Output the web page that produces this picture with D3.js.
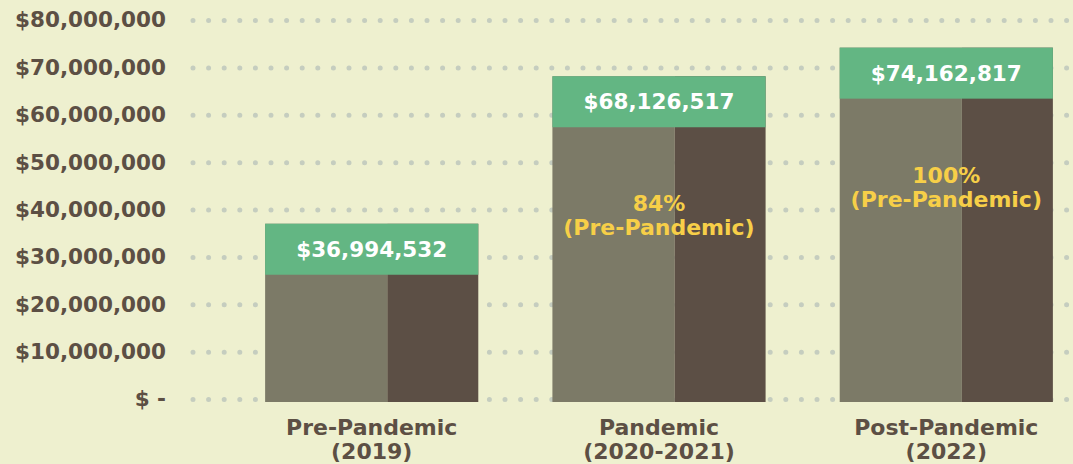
<!DOCTYPE html>
<html>
<head>
<meta charset="utf-8">
<script src="https://cdn.jsdelivr.net/npm/d3@7"></script>
<style>
    body { margin: 0; background: #eef0cf; }
    svg { display: block; font-family: "DejaVu Sans", sans-serif; font-weight: bold; }
</style>
</head>
<body>
<svg class="wrapper" width="1073" height="464"></svg>
<script>
// data
const periods = ["Pre-Pandemic", "Pandemic", "Post-Pandemic"];
const years = ["(2019)", "(2020-2021)", "(2022)"];
const totals = [36994532, 68126517, 74162817];
const pctOfPre = ["", "84%", "100%"];
const yTicks = [0, 10000000, 20000000, 30000000, 40000000, 50000000, 60000000, 70000000, 80000000];

const dataset = periods.map((p, i) => ({ Name: p, Year: years[i], Total: totals[i], Pct: pctOfPre[i] }));

const axisX = 193;
const labelBand = 51;      // green label box height
const leftShare = 0.573;   // lighter left part of each bar

const svg = d3.select(".wrapper");

const xScale = d3.scaleBand()
    .domain(periods)
    .range([191, 1127])
    .paddingInner(0.258)
    .paddingOuter(0.258);

const yScale = d3.scaleLinear()
    .domain([0, 80000000])
    .range([399, 20]);

const fmt = d3.format(",");

// y axis + dotted grid
let axisFunctionY = d3.axisLeft(yScale)
    .tickValues(yTicks)
    .tickSizeInner(-(1068 - axisX))
    .tickSizeOuter(0)
    .tickPadding(27)
    .tickFormat(d => d === 0 ? "$ -" : "$" + fmt(d));

let yAxis = svg.append("g")
    .classed("yAxis", true)
    .attr("transform", `translate(${axisX}, 0)`)
    .call(axisFunctionY);

yAxis.select(".domain").remove();
yAxis.selectAll(".tick line")
    .attr("stroke", "#c5cdbf")
    .attr("stroke-width", 5)
    .attr("stroke-linecap", "round")
    .attr("stroke-dasharray", "0 15.6");
yAxis.selectAll(".tick text")
    .attr("fill", "#5c4f44")
    .attr("font-size", 21.5)
    .attr("font-family", "DejaVu Sans")
    .attr("font-weight", "bold");

// bars
const bars = svg.append("g").classed("g_bars", true)
    .selectAll("g")
    .data(dataset)
    .enter()
    .append("g");

const base = yScale(0) + 3;

bars.append("rect")
    .attr("x", d => xScale(d.Name))
    .attr("y", d => yScale(d.Total))
    .attr("width", xScale.bandwidth() * leftShare)
    .attr("height", d => base - yScale(d.Total))
    .attr("fill", "#7c7a67");

bars.append("rect")
    .attr("x", d => xScale(d.Name) + xScale.bandwidth() * leftShare)
    .attr("y", d => yScale(d.Total))
    .attr("width", xScale.bandwidth() * (1 - leftShare))
    .attr("height", d => base - yScale(d.Total))
    .attr("fill", "#5c4f45");

bars.append("rect")
    .attr("x", d => xScale(d.Name))
    .attr("y", d => yScale(d.Total))
    .attr("width", xScale.bandwidth())
    .attr("height", labelBand)
    .attr("fill", "#63b683");

bars.append("text")
    .attr("x", d => xScale(d.Name) + xScale.bandwidth() / 2)
    .attr("y", d => yScale(d.Total) + labelBand / 2)
    .attr("dy", "0.36em")
    .attr("text-anchor", "middle")
    .attr("fill", "#ffffff")
    .attr("font-size", 21.5)
    .text(d => "$" + fmt(d.Total));

// share of pre-pandemic
let pct = bars.filter(d => d.Pct !== "")
    .append("text")
    .attr("text-anchor", "middle")
    .attr("fill", "#f7cf48")
    .attr("font-size", 22);

pct.append("tspan")
    .attr("x", d => xScale(d.Name) + xScale.bandwidth() / 2)
    .attr("y", d => yScale(d.Total) + labelBand + 76)
    .attr("dy", "0.36em")
    .text(d => d.Pct);

pct.append("tspan")
    .attr("x", d => xScale(d.Name) + xScale.bandwidth() / 2)
    .attr("y", d => yScale(d.Total) + labelBand + 100)
    .attr("dy", "0.36em")
    .text("(Pre-Pandemic)");

// category labels
let cats = svg.append("g").classed("xAxis", true)
    .selectAll("text")
    .data(dataset)
    .enter()
    .append("text")
    .attr("text-anchor", "middle")
    .attr("fill", "#5c4f44")
    .attr("font-size", 22);

cats.append("tspan")
    .attr("x", d => xScale(d.Name) + xScale.bandwidth() / 2)
    .attr("y", 427)
    .attr("dy", "0.36em")
    .text(d => d.Name);

cats.append("tspan")
    .attr("x", d => xScale(d.Name) + xScale.bandwidth() / 2)
    .attr("y", 451)
    .attr("dy", "0.36em")
    .text(d => d.Year);
</script>
</body>
</html>
